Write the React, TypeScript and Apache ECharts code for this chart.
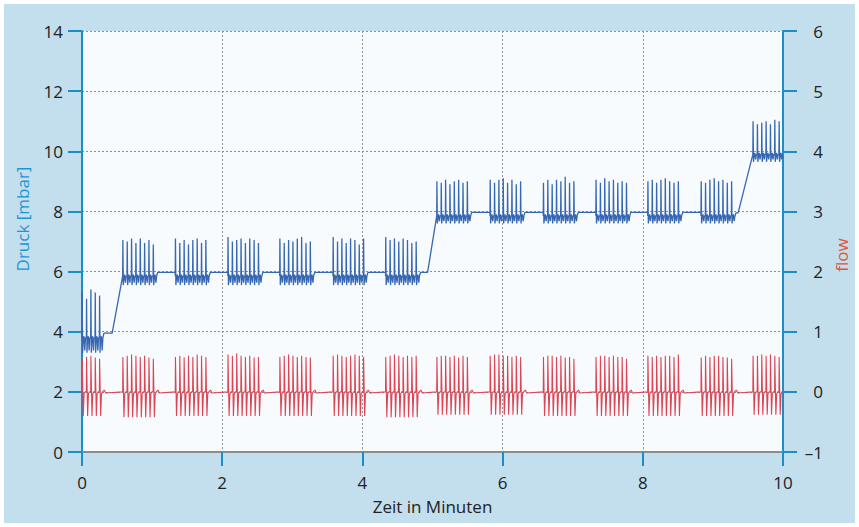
import React, { useEffect, useRef } from "react";
import * as echarts from "echarts";

// ---- data ----
const xTicks = [0, 2, 4, 6, 8, 10];
const burstStart = [0.0, 0.58, 1.33, 2.08, 2.82, 3.58, 4.33, 5.06, 5.82, 6.58, 7.33, 8.07, 8.83, 9.57];
const breathPeriod = 0.062; // minutes between breaths inside a burst
const pressureBase = [3.8, 5.85, 5.85, 5.85, 5.85, 5.85, 5.85, 7.85, 7.85, 7.85, 7.85, 7.85, 7.85, 9.9];
const pressureTrough = [3.3, 5.55, 5.55, 5.55, 5.55, 5.55, 5.55, 7.6, 7.6, 7.6, 7.6, 7.6, 7.6, 9.65];
const pressurePeaks = [
  [5.3, 5.1, 5.4, 5.3, 5.2],
  [7.05, 7.0, 7.1, 6.95, 7.1, 6.95, 7.05, 6.9],
  [7.1, 6.95, 7.05, 6.9, 7.05, 7.1, 6.95, 7.05],
  [7.15, 7.0, 7.05, 7.1, 6.95, 7.1, 7.05, 6.95],
  [7.1, 6.95, 7.05, 7.0, 7.1, 7.15, 6.95, 7.0],
  [7.15, 7.0, 7.1, 6.95, 7.1, 7.05, 6.9, 7.1],
  [7.15, 7.05, 7.1, 7.0, 7.1, 7.05, 6.95, 7.0],
  [9.0, 8.95, 9.05, 8.9, 9.0, 9.05, 8.95, 9.0],
  [9.05, 8.95, 9.05, 9.1, 8.95, 9.05, 8.9, 9.0],
  [8.95, 9.05, 8.9, 9.05, 9.0, 9.15, 8.95, 9.0],
  [9.05, 8.95, 9.1, 9.0, 9.05, 8.95, 9.0, 8.95],
  [9.0, 9.05, 8.95, 9.05, 9.1, 9.0, 8.95, 9.0],
  [9.0, 8.95, 9.05, 9.1, 9.0, 9.05, 8.95, 9.0],
  [11.0, 10.9, 10.95, 11.0, 10.9, 11.05, 11.0],
];
const gapLevel = [3.95, 5.97, 5.97, 5.97, 5.97, 5.97, 5.97, 7.97, 7.97, 7.97, 7.97, 7.97, 7.95];
const rampStart = [0.43, 1.33, 2.08, 2.82, 3.58, 4.33, 4.93, 5.82, 6.58, 7.33, 8.07, 8.83, 9.36];
const flowPeaks = [
  [0.55, 0.58, 0.6, 0.57, 0.55],
  [0.58, 0.6, 0.62, 0.6, 0.58, 0.6, 0.57, 0.55],
  [0.58, 0.6, 0.57, 0.6, 0.58, 0.62, 0.6, 0.58],
  [0.62, 0.6, 0.64, 0.6, 0.58, 0.6, 0.57, 0.58],
  [0.58, 0.6, 0.62, 0.6, 0.58, 0.6, 0.58, 0.57],
  [0.6, 0.62, 0.6, 0.58, 0.6, 0.62, 0.6, 0.58],
  [0.58, 0.6, 0.62, 0.6, 0.58, 0.6, 0.58, 0.6],
  [0.58, 0.6, 0.6, 0.58, 0.6, 0.57, 0.6, 0.58],
  [0.6, 0.62, 0.62, 0.6, 0.6, 0.58, 0.6, 0.58],
  [0.58, 0.6, 0.6, 0.58, 0.6, 0.57, 0.58, 0.55],
  [0.58, 0.6, 0.6, 0.58, 0.6, 0.58, 0.58, 0.55],
  [0.6, 0.58, 0.6, 0.58, 0.6, 0.6, 0.58, 0.62],
  [0.57, 0.6, 0.58, 0.6, 0.6, 0.58, 0.57, 0.55],
  [0.6, 0.6, 0.62, 0.6, 0.62, 0.6, 0.58],
];
const flowTrough = [-0.4, -0.42, -0.4, -0.4, -0.4, -0.4, -0.42, -0.38, -0.38, -0.4, -0.4, -0.4, -0.4, -0.38];

// ---- build line tables from the arrays above ----
function buildPressure(): number[][] {
  const pts: number[][] = [];
  burstStart.forEach((s, i) => {
    const base = pressureBase[i];
    const tr = pressureTrough[i];
    const peaks = pressurePeaks[i];
    peaks.forEach((pk, k) => {
      const t0 = s + k * breathPeriod;
      pts.push([t0, base]);
      pts.push([t0 + 0.003, pk]);
      pts.push([t0 + 0.009, tr]);
      pts.push([t0 + 0.016, base - 0.1]);
      pts.push([t0 + 0.028, base + 0.05]);
      pts.push([t0 + 0.04, tr + 0.08]);
      pts.push([t0 + 0.05, base]);
    });
    const lastT = s + (peaks.length - 1) * breathPeriod + 0.055;
    if (i < gapLevel.length) {
      pts.push([lastT, base]);
      pts.push([lastT + 0.01, gapLevel[i]]);
      pts.push([rampStart[i], gapLevel[i]]);
    } else {
      pts.push([Math.min(lastT, 10), base]);
    }
  });
  return pts.filter((p) => p[0] <= 10);
}

function buildFlow(): number[][] {
  const pts: number[][] = [];
  burstStart.forEach((s, i) => {
    const peaks = flowPeaks[i];
    peaks.forEach((pk, k) => {
      const t0 = s + k * breathPeriod;
      pts.push([t0, 0]);
      pts.push([t0 + 0.003, pk]);
      pts.push([t0 + 0.012, 0]);
      pts.push([t0 + 0.018, flowTrough[i]]);
      pts.push([t0 + 0.03, -0.03]);
      pts.push([t0 + 0.045, 0]);
    });
    const lastT = s + (peaks.length - 1) * breathPeriod + 0.05;
    if (i < rampStart.length) {
      pts.push([lastT, 0]);
      pts.push([lastT + 0.02, 0.03]);
      pts.push([lastT + 0.04, -0.02]);
      pts.push([burstStart[i + 1], 0]);
    } else {
      pts.push([10, 0]);
    }
  });
  return pts.filter((p) => p[0] <= 10);
}

const AXIS = "#1a8fc6";
const FONT = "'Open Sans', 'Noto Sans', sans-serif";

export default function App() {
  const ref = useRef<HTMLDivElement>(null);
  useEffect(() => {
    document.body.style.margin = "0";
    const chart = echarts.init(ref.current!, null, { renderer: "svg" });
    chart.setOption({
      animation: false,
      backgroundColor: "#ffffff",
      graphic: [
        {
          type: "rect",
          z: -10,
          silent: true,
          shape: { x: 4, y: 4, width: 851, height: 519 },
          style: { fill: "#c3deed" },
        },
        {
          type: "text",
          x: 22,
          y: 219,
          rotation: Math.PI / 2,
          silent: true,
          style: {
            text: "Druck [mbar]",
            fill: "#1a96d4",
            font: "17px 'Open Sans', sans-serif",
            align: "center",
            verticalAlign: "middle",
          },
        },
        {
          type: "text",
          x: 841,
          y: 255,
          rotation: Math.PI / 2,
          silent: true,
          style: {
            text: "flow",
            fill: "#e0553a",
            font: "17px 'Open Sans', sans-serif",
            align: "center",
            verticalAlign: "middle",
          },
        },
      ],
      grid: {
        left: 82,
        right: 76,
        top: 31,
        bottom: 75,
        show: true,
        backgroundColor: "#f8fbfe",
        borderWidth: 0,
      },
      xAxis: [
        {
          type: "value",
          min: 0,
          max: 10,
          interval: 2,
          axisLine: { show: true, onZero: false, lineStyle: { color: AXIS, width: 2 } },
          axisTick: { show: true, length: 14, lineStyle: { color: AXIS, width: 2 } },
          axisLabel: { margin: 22, fontSize: 17, color: "#222", fontFamily: FONT, formatter: (v: number) => (xTicks.includes(v) ? String(v) : "") },
          splitLine: { show: true, lineStyle: { color: "#8f8f8f", type: [2, 2], width: 1 } },
          name: "Zeit in Minuten",
          nameLocation: "middle",
          nameGap: 46,
          nameTextStyle: { fontSize: 17, color: "#222", fontFamily: FONT },
        },
        {
          type: "value",
          position: "top",
          min: 0,
          max: 10,
          interval: 2,
          axisLine: { show: true, lineStyle: { color: "#8c8c8c", width: 2 } },
          axisTick: { show: false },
          axisLabel: { show: false },
          splitLine: { show: false },
        },
      ],
      yAxis: [
        {
          type: "value",
          min: 0,
          max: 14,
          interval: 2,
          axisLine: { show: true, onZero: false, lineStyle: { color: AXIS, width: 2 } },
          axisTick: { show: true, length: 14, lineStyle: { color: AXIS, width: 2 } },
          axisLabel: { margin: 19, fontSize: 17, color: "#222", fontFamily: FONT },
          splitLine: { show: true, lineStyle: { color: "#8f8f8f", type: [2, 2], width: 1 } },
        },
        {
          type: "value",
          position: "right",
          min: -1,
          max: 6,
          interval: 1,
          axisLine: { show: true, onZero: false, lineStyle: { color: AXIS, width: 2 } },
          axisTick: { show: true, length: 14, lineStyle: { color: AXIS, width: 2 } },
          axisLabel: {
            margin: 40,
            align: "right",
            fontSize: 17,
            color: "#222",
            fontFamily: FONT,
            formatter: (v: number) => (v < 0 ? "\u2013" + Math.abs(v) : String(v)),
          },
          splitLine: { show: false },
        },
      ],
      series: [
        {
          name: "flow",
          type: "line",
          xAxisIndex: 0,
          yAxisIndex: 1,
          data: buildFlow(),
          showSymbol: false,
          symbol: "none",
          lineStyle: { color: "#dc4654", width: 1.1 },
          z: 3,
        },
        {
          name: "Druck",
          type: "line",
          xAxisIndex: 0,
          yAxisIndex: 0,
          data: buildPressure(),
          showSymbol: false,
          symbol: "none",
          lineStyle: { color: "#3767b2", width: 1.3 },
          z: 4,
        },
      ],
    });
    return () => chart.dispose();
  }, []);
  return <div ref={ref} style={{ width: 859, height: 527, position: "absolute", left: 0, top: 0 }} />;
}
